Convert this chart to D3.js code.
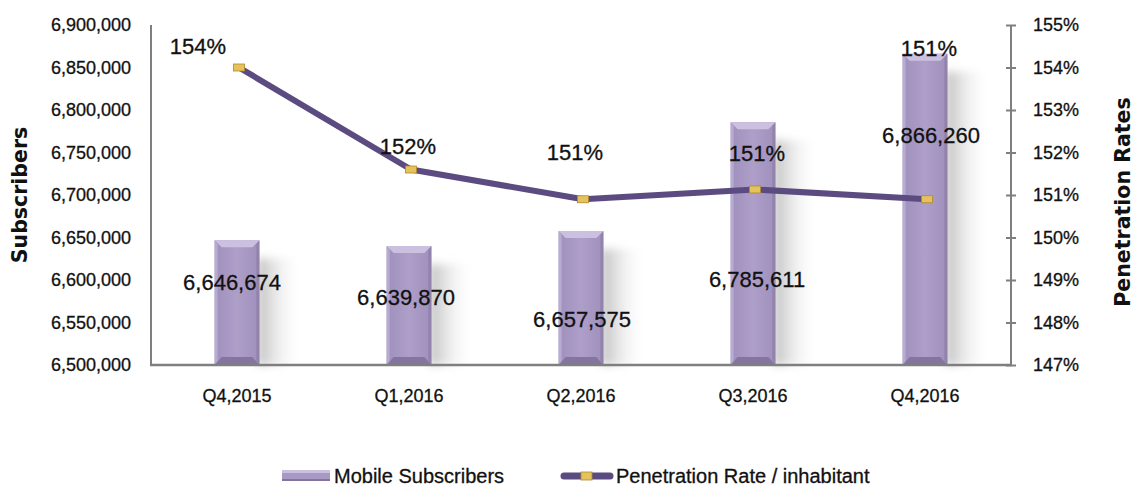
<!DOCTYPE html>
<html>
<head>
<meta charset="utf-8">
<script src="https://cdn.jsdelivr.net/npm/d3@7"></script>
<style>
  body { margin: 0; background: #fff; }
  text { font-family: "Liberation Sans", Arial, sans-serif; fill: #111; stroke: #111; stroke-width: 0.3px; }
  .title { font-family: "DejaVu Sans", sans-serif; font-weight: bold; font-size: 20.5px; stroke: none; }
</style>
</head>
<body>
<script>
// data
var quarters = ["Q4,2015", "Q1,2016", "Q2,2016", "Q3,2016", "Q4,2016"];
var subscribers = [6646674, 6639870, 6657575, 6785611, 6866260];
var penetration = [1.540, 1.516, 1.509, 1.5113, 1.509];
var leftTicks = [6500000, 6550000, 6600000, 6650000, 6700000, 6750000, 6800000, 6850000, 6900000];
var rightTicks = [1.47, 1.48, 1.49, 1.50, 1.51, 1.52, 1.53, 1.54, 1.55];

// label placement (as moved around in the original)
var barLabelDx = [-5, -3, 1, 4, 6];
var barLabelDy = [50, 59, 96, 165, 89];
var rateLabelDx = [-39, -1, -6, 4, 4];
var rateLabelDy = [-14, -16, -39, -28, -143];

var W = 1136, H = 486;
var margin = { left: 151, right: 125, top: 25, bottom: 121 };

var svg = d3.select("body").append("svg")
  .attr("width", W)
  .attr("height", H);

var defs = svg.append("defs");

var sg = defs.append("linearGradient").attr("id", "shadowGrad");
sg.append("stop").attr("offset", "0%").attr("stop-color", "#b5b5b5").attr("stop-opacity", 0.9);
sg.append("stop").attr("offset", "100%").attr("stop-color", "#ffffff").attr("stop-opacity", 0);

defs.append("filter").attr("id", "blur")
  .attr("x", "-50%").attr("y", "-50%").attr("width", "200%").attr("height", "200%")
  .append("feGaussianBlur").attr("stdDeviation", 4);

var bg = defs.append("linearGradient").attr("id", "barGrad");
bg.append("stop").attr("offset", "0%").attr("stop-color", "#9f8fbc");
bg.append("stop").attr("offset", "50%").attr("stop-color", "#ae9fc9");
bg.append("stop").attr("offset", "100%").attr("stop-color", "#9f8fbc");

var x = d3.scaleBand().domain(quarters)
  .range([margin.left, W - margin.right])
  .paddingInner(0.74).paddingOuter(0.37);

var y = d3.scaleLinear().domain([6500000, 6900000])
  .range([H - margin.bottom, margin.top]);

var yR = d3.scaleLinear().domain([1.47, 1.55])
  .range([H - margin.bottom, margin.top]);

var base = H - margin.bottom;
var bw = x.bandwidth();

// bar shadows
svg.append("g").selectAll("rect")
  .data(quarters)
  .enter().append("rect")
  .attr("x", function (d) { return x(d) + bw - 2; })
  .attr("y", function (d, i) { return y(subscribers[i]) + 18; })
  .attr("width", 44)
  .attr("height", function (d, i) { return base - y(subscribers[i]) - 18; })
  .attr("fill", "url(#shadowGrad)")
  .attr("filter", "url(#blur)");

// bars
var bars = svg.append("g").selectAll("g")
  .data(quarters)
  .enter().append("g");

bars.append("rect")
  .attr("x", function (d) { return x(d); })
  .attr("y", function (d, i) { return y(subscribers[i]); })
  .attr("width", bw)
  .attr("height", function (d, i) { return base - y(subscribers[i]); })
  .attr("fill", "url(#barGrad)");

// bevel top
bars.append("path")
  .attr("d", function (d, i) {
    var x0 = x(d), x1 = x(d) + bw, t = y(subscribers[i]);
    return "M" + x0 + "," + t + "L" + x1 + "," + t + "L" + (x1 - 7) + "," + (t + 7) + "L" + (x0 + 7) + "," + (t + 7) + "Z";
  })
  .attr("fill", "#cbc0e0");

// bevel bottom
bars.append("path")
  .attr("d", function (d) {
    var x0 = x(d), x1 = x(d) + bw;
    return "M" + x0 + "," + base + "L" + x1 + "," + base + "L" + (x1 - 7) + "," + (base - 8) + "L" + (x0 + 7) + "," + (base - 8) + "Z";
  })
  .attr("fill", "#85749f");

// bevel sides
bars.append("path")
  .attr("d", function (d, i) {
    var x0 = x(d), t = y(subscribers[i]);
    return "M" + x0 + "," + t + "L" + (x0 + 3) + "," + (t + 4) + "L" + (x0 + 3) + "," + (base - 4) + "L" + x0 + "," + base + "Z";
  })
  .attr("fill", "#b8abd2");
bars.append("path")
  .attr("d", function (d, i) {
    var x1 = x(d) + bw, t = y(subscribers[i]);
    return "M" + x1 + "," + t + "L" + (x1 - 3) + "," + (t + 4) + "L" + (x1 - 3) + "," + (base - 4) + "L" + x1 + "," + base + "Z";
  })
  .attr("fill", "#9283ad");

// axes lines
svg.append("line")
  .attr("x1", margin.left).attr("x2", margin.left)
  .attr("y1", margin.top).attr("y2", base)
  .attr("stroke", "#7f7f7f").attr("stroke-width", 2);
svg.append("line")
  .attr("x1", W - margin.right).attr("x2", W - margin.right)
  .attr("y1", margin.top).attr("y2", base)
  .attr("stroke", "#7f7f7f").attr("stroke-width", 2);
svg.append("line")
  .attr("x1", margin.left - 1).attr("x2", W - margin.right + 1)
  .attr("y1", base).attr("y2", base)
  .attr("stroke", "#7f7f7f").attr("stroke-width", 2.5);

// left axis
var left = svg.append("g")
  .attr("transform", "translate(" + margin.left + ",0)")
  .call(d3.axisLeft(y).tickValues(leftTicks).tickSize(0).tickPadding(20).tickFormat(d3.format(",")));
left.select(".domain").remove();
left.selectAll("text").style("font-size", "18px").attr("fill", "#111");

// right axis
var right = svg.append("g")
  .attr("transform", "translate(" + (W - margin.right) + ",0)")
  .call(d3.axisRight(yR).tickValues(rightTicks).tickSize(5).tickPadding(17).tickFormat(d3.format(".0%")));
right.select(".domain").remove();
right.selectAll(".tick line").attr("x1", -5).attr("stroke", "#7f7f7f").attr("stroke-width", 2);
right.selectAll("text").style("font-size", "18px").attr("fill", "#111");

// bottom axis
var bottom = svg.append("g")
  .attr("transform", "translate(0," + base + ")")
  .call(d3.axisBottom(x).tickSize(0).tickPadding(24));
bottom.select(".domain").remove();
bottom.selectAll("text").style("font-size", "18px").attr("fill", "#111");

// penetration line
var line = d3.line()
  .x(function (d, i) { return x(quarters[i]) + bw / 2 + 2; })
  .y(function (d) { return yR(d); });

svg.append("path")
  .datum(penetration)
  .attr("d", line)
  .attr("fill", "none")
  .attr("stroke", "#5c4b80")
  .attr("stroke-width", 6)
  .attr("stroke-linejoin", "round");

svg.append("g").selectAll("rect")
  .data(penetration)
  .enter().append("rect")
  .attr("x", function (d, i) { return x(quarters[i]) + bw / 2 + 2 - 5.5; })
  .attr("y", function (d) { return yR(d) - 3.5; })
  .attr("width", 11)
  .attr("height", 7)
  .attr("fill", "#e6c25c")
  .attr("stroke", "#b08a2e")
  .attr("stroke-width", 0.8);

// data labels
svg.append("g").selectAll("text")
  .data(subscribers)
  .enter().append("text")
  .attr("x", function (d, i) { return x(quarters[i]) + bw / 2 + barLabelDx[i]; })
  .attr("y", function (d, i) { return y(d) + barLabelDy[i]; })
  .attr("text-anchor", "middle")
  .style("font-size", "22px")
  .text(d3.format(","));

svg.append("g").selectAll("text")
  .data(penetration)
  .enter().append("text")
  .attr("x", function (d, i) { return x(quarters[i]) + bw / 2 + rateLabelDx[i]; })
  .attr("y", function (d, i) { return yR(d) + rateLabelDy[i]; })
  .attr("text-anchor", "middle")
  .style("font-size", "22px")
  .text(d3.format(".0%"));

// axis titles
svg.append("text")
  .attr("class", "title")
  .attr("text-anchor", "middle")
  .attr("transform", "translate(27," + ((margin.top + base) / 2) + ") rotate(-90)")
  .text("Subscribers");

svg.append("text")
  .attr("class", "title")
  .attr("text-anchor", "middle")
  .attr("transform", "translate(1130,202) rotate(-90)")
  .text("Penetration Rates");

// legend
var leg = svg.append("g").attr("transform", "translate(0,476)");
leg.append("rect").attr("x", 282).attr("y", -6).attr("width", 48).attr("height", 11).attr("fill", "#a899c4");
leg.append("rect").attr("x", 282).attr("y", -6).attr("width", 48).attr("height", 3).attr("fill", "#cbc0e0");
leg.append("rect").attr("x", 282).attr("y", 3).attr("width", 48).attr("height", 2).attr("fill", "#85749f");
leg.append("text").attr("x", 334).attr("y", 0).attr("dy", "0.35em")
  .style("font-size", "20px").text("Mobile Subscribers");

leg.append("line").attr("x1", 564).attr("x2", 610).attr("y1", 0).attr("y2", 0)
  .attr("stroke", "#5c4b80").attr("stroke-width", 7).attr("stroke-linecap", "round");
leg.append("rect").attr("x", 581).attr("y", -4).attr("width", 11).attr("height", 8)
  .attr("fill", "#e6c25c").attr("stroke", "#b08a2e").attr("stroke-width", 0.8);
leg.append("text").attr("x", 616).attr("y", 0).attr("dy", "0.35em")
  .style("font-size", "20px").text("Penetration Rate / inhabitant");
</script>
</body>
</html>
